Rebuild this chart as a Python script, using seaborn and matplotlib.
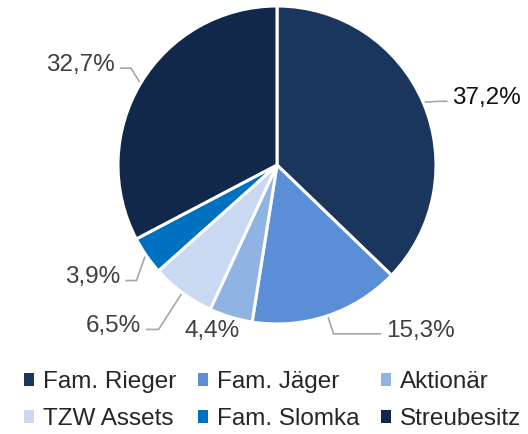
import numpy as np
import matplotlib
matplotlib.use('Agg')
from matplotlib import pyplot as plt
from matplotlib.patches import Patch
import seaborn as sns

# shareholder structure
labels = ['Fam. Rieger', 'Fam. Jäger', 'Aktionär', 'TZW Assets', 'Fam. Slomka', 'Streubesitz']
shares = [37.2, 15.3, 4.4, 6.5, 3.9, 32.7]
share_text = ['37,2%', '15,3%', '4,4%', '6,5%', '3,9%', '32,7%']
colors = ['#1b365d', '#5a8fd7', '#8fb3e3', '#c8d9f1', '#0070c0', '#12284a']
label_colors = ['#111111', '#404040', '#404040', '#404040', '#404040', '#404040']

sns.set_theme(style='white')
plt.rcParams['font.family'] = ['Liberation Sans', 'DejaVu Sans']
FS = 17.5

fig = plt.figure(figsize=(5.28, 4.34), dpi=100)
ax = fig.add_axes([118 / 528, 110 / 434, 318 / 528, 318 / 434])

wedges, _ = ax.pie(shares, colors=colors, startangle=90, counterclock=False,
                   wedgeprops=dict(edgecolor='white', linewidth=2.2))
ax.set_xlim(-1, 1)
ax.set_ylim(-1, 1)
ax.set_aspect('equal')
ax.axis('off')

# label placement tweaks (elbow radius, horizontal run, elbow dx, elbow dy)
tweaks = [(1.10, 0.06, 0.0, -0.03), (1.12, 0.30, 0.0, 0.0), (1.06, 0.0, -0.10, 0.0),
          (1.20, 0.08, -0.03, -0.07), (1.10, 0.07, 0.02, -0.10), (1.12, 0.07, 0.04, 0.03)]

for w, txt, tc, (r_el, run, dx, dy) in zip(wedges, share_text, label_colors, tweaks):
    ang = np.deg2rad((w.theta1 + w.theta2) / 2)
    x0, y0 = np.cos(ang), np.sin(ang)
    xe, ye = r_el * x0 + dx, r_el * y0 + dy
    side = 1 if x0 > 0 else -1
    if run > 0:
        xt = xe + side * run
        ax.plot([x0 * 1.01, xe, xt], [y0 * 1.01, ye, ye], color='#a6a6a6', lw=1.2,
                clip_on=False, solid_capstyle='butt')
        ax.text(xt + side * 0.03, ye + 0.02, txt, ha='left' if side > 0 else 'right',
                va='center', fontsize=FS, color=tc)
    else:
        ax.text(xe, ye - 0.03, txt, ha='center', va='center', fontsize=FS, color=tc)

handles = [Patch(facecolor=c, edgecolor='none', label=l) for c, l in zip(colors, labels)]
# legend fills columns first, reorder so rows read left to right
order = [0, 3, 1, 4, 2, 5]
fig.legend([handles[i] for i in order], [labels[i] for i in order],
           loc='lower left', bbox_to_anchor=(24 / 528, 4 / 434), ncol=3, frameon=False,
           fontsize=FS, handlelength=0.42, handleheight=0.42, handletextpad=0.35,
           columnspacing=0.9, labelspacing=0.6, borderaxespad=0, borderpad=0)

fig.savefig('out.png', dpi=100)
